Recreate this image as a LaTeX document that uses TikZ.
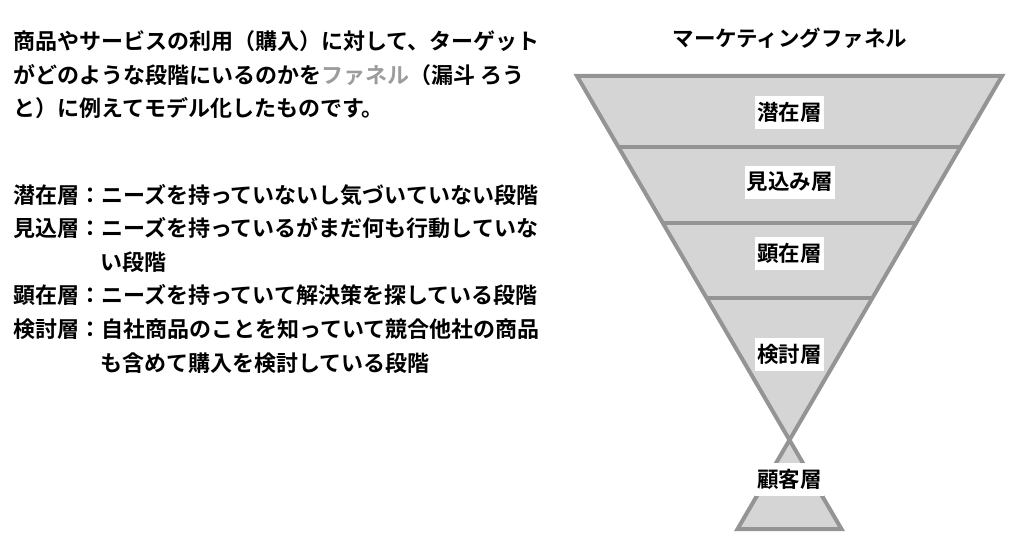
\documentclass[tikz,border=0pt]{standalone}
\usepackage{fontspec}
\setmainfont{Noto Sans CJK JP}[BoldFont={Noto Sans CJK JP Bold}]
\usetikzlibrary{calc}
\definecolor{edgegray}{HTML}{949494}
\definecolor{fillgray}{HTML}{D5D5D5}
\definecolor{wordgray}{HTML}{9C9C9C}
\tikzset{
	txt/.style={anchor=base west,inner sep=0pt,font=\fontsize{22}{26}\selectfont\bfseries},
	layer/.style={fill=white,inner xsep=2pt,inner ysep=0pt,minimum height=33pt,font=\fontsize{21.5}{26}\selectfont\bfseries},
	funnel/.style={draw=edgegray,fill=fillgray,line width=4pt},
	divider/.style={draw=edgegray,line width=4pt}
}
\begin{document}
\begin{tikzpicture}[x=1pt,y=-1pt]
	\useasboundingbox (0,0) rectangle (1021,551);
	% funnel
	\coordinate (tl) at (577,76);
	\coordinate (tr) at (1002,76);
	\coordinate (o) at (789.5,440);
	\coordinate (br) at ($(tl)!1.245!(o)$);
	\coordinate (bl) at ($(tr)!1.245!(o)$);
	\draw[funnel] (tl) -- (tr) -- (bl) -- (br) -- cycle;
	\foreach \t in {0.195,0.404,0.61}
		\draw[divider] ($(tl)!\t!(o)$) -- ($(tr)!\t!(o)$);
	\node[font=\fontsize{21.5}{26}\selectfont\bfseries] (title) at (790,38) {マーケティングファネル};
	\node[layer] (sen) at (789.5,112.5) {潜在層};
	\node[layer] (mikomi) at (789.5,182) {見込み層};
	\node[layer] (ken) at (789.5,253) {顕在層};
	\node[layer] (kento) at (789.5,354) {検討層};
	\node[layer] (kokyaku) at (789.5,479) {顧客層};
	% explanation
	\node[txt] (p1) at (13,50) {商品やサービスの利用（購入）に対して、ターゲット};
	\node[txt] (p2) at (13,83.5) {がどのような段階にいるのかを\textcolor{wordgray}{ファネル}（漏斗 ろう};
	\node[txt] (p3) at (13,117) {と）に例えてモデル化したものです。};
	\node[txt] (l1) at (13,203) {潜在層：ニーズを持っていないし気づいていない段階};
	\node[txt] (l2) at (13,236.6) {見込層：ニーズを持っているがまだ何も行動していな};
	\node[txt] (l2b) at (100,270.2) {い段階};
	\node[txt] (l3) at (13,303.8) {顕在層：ニーズを持っていて解決策を探している段階};
	\node[txt] (l4) at (13,337.4) {検討層：自社商品のことを知っていて競合他社の商品};
	\node[txt] (l4b) at (100,371) {も含めて購入を検討している段階};
\end{tikzpicture}
\end{document}
